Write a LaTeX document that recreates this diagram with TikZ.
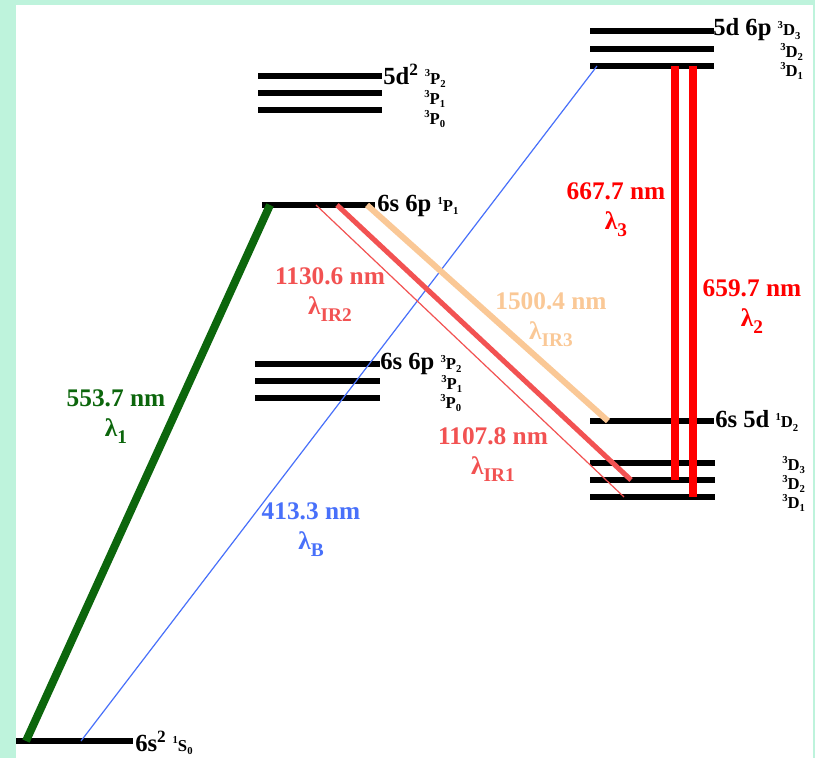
\documentclass[tikz,border=0pt]{standalone}
\usepackage{fontspec}
\setmainfont{Liberation Serif}
\definecolor{mint}{RGB}{190,243,220}
\definecolor{grn}{RGB}{12,102,12}
\definecolor{blu}{RGB}{72,112,250}
\definecolor{pnk}{RGB}{242,82,82}
\definecolor{org}{RGB}{250,200,150}
\newcommand{\tsup}[1]{\raisebox{0.45em}{\fontsize{8}{8}\selectfont #1}}
\newcommand{\tsub}[1]{\raisebox{-0.2em}{\fontsize{8}{8}\selectfont #1}}
\newcommand{\trm}[3]{\tsup{#1}#2\tsub{#3}}
\newcommand{\wsub}[1]{\raisebox{-0.3em}{\fontsize{14.5}{14.5}\selectfont #1}}
\begin{document}
\begin{tikzpicture}[x=0.75pt, y=-0.75pt,
    level/.style={line width=3.8pt},
    lvlabel/.style={font=\bfseries\fontsize{18.5}{18.5}\selectfont,
      inner sep=0pt, anchor=west},
    termlbl/.style={font=\bfseries\fontsize{12.5}{12.5}\selectfont,
      inner sep=0pt, anchor=west},
    wave/.style={font=\bfseries\fontsize{19}{22}\selectfont,
      align=center, inner sep=0pt}
  ]
    % Rahmen
    \fill[mint] (0,0) rectangle (815,758);
    \fill[white] (16,5) rectangle (813,758);
    \useasboundingbox (0,0) rectangle (815,758);

    % Niveaus
    \draw[level] (16,741) -- (133,741);
    \draw[level] (258,76) -- (382,76);
    \draw[level] (258,93) -- (382,93);
    \draw[level] (258,110) -- (382,110);
    \draw[level] (262,205) -- (375,205);
    \draw[level] (255,364) -- (380,364);
    \draw[level] (255,381) -- (380,381);
    \draw[level] (255,398) -- (380,398);
    \draw[level] (590,31) -- (714,31);
    \draw[level] (590,49) -- (714,49);
    \draw[level] (590,66) -- (714,66);
    \draw[level] (590,421) -- (714,421);
    \draw[level] (590,463) -- (715,463);
    \draw[level] (590,480) -- (715,480);
    \draw[level] (590,497) -- (715,497);

    % Beschriftung der Niveaus
    \node[lvlabel] (gnd) at (135,743) {6s\textsuperscript{2} \fontsize{12.5}{12.5}\selectfont\trm{1}{S}{0}};
    \node[lvlabel] (dd) at (383,76) {5d\textsuperscript{2} \fontsize{12.5}{12.5}\selectfont\trm{3}{P}{2}};
    \node[termlbl] (dd1) at (424,99) {\trm{3}{P}{1}};
    \node[termlbl] (dd0) at (424,119) {\trm{3}{P}{0}};
    \node[lvlabel] (sp1) at (377,206) {6s 6p \fontsize{12.5}{12.5}\selectfont\trm{1}{P}{1}};
    \node[lvlabel] (sp3) at (380,364) {6s 6p \fontsize{12.5}{12.5}\selectfont\trm{3}{P}{2}};
    \node[termlbl] (sp31) at (441,384) {\trm{3}{P}{1}};
    \node[termlbl] (sp30) at (440,403) {\trm{3}{P}{0}};
    \node[lvlabel] (dp) at (713,30) {5d 6p \fontsize{12.5}{12.5}\selectfont\trm{3}{D}{3}};
    \node[termlbl] (dp2) at (780,52) {\trm{3}{D}{2}};
    \node[termlbl] (dp1) at (780,71) {\trm{3}{D}{1}};
    \node[lvlabel] (sd1) at (715,421) {6s 5d \fontsize{12.5}{12.5}\selectfont\trm{1}{D}{2}};
    \node[termlbl] (sd3) at (782,465) {\trm{3}{D}{3}};
    \node[termlbl] (sd2) at (782,484) {\trm{3}{D}{2}};
    \node[termlbl] (sd1b) at (782,503) {\trm{3}{D}{1}};

    % Endpunkte der Uebergaenge
    \coordinate (gG) at (26,741);
    \coordinate (gB) at (81,741);
    \coordinate (pG) at (270,205);
    \coordinate (pA) at (316,205);
    \coordinate (pB) at (337,205);
    \coordinate (pC) at (367,205);
    \coordinate (dB) at (597,66);
    \coordinate (d3) at (675,66);
    \coordinate (d2) at (693,66);
    \coordinate (sC) at (608,421);
    \coordinate (sB) at (631,480);
    \coordinate (sA) at (624,497);
    \coordinate (s3) at (675,480);
    \coordinate (s2) at (693,497);

    % Uebergaenge
    \draw[grn, line width=6pt] (gG) -- (pG);
    \draw[blu, line width=0.9pt] (gB) -- (dB);
    \draw[pnk, line width=0.9pt] (pA) -- (sA);
    \draw[pnk, line width=3.8pt] (pB) -- (sB);
    \draw[org, line width=4.5pt] (pC) -- (sC);
    \draw[red, line width=5.5pt] (d3) -- (s3);
    \draw[red, line width=5.5pt] (d2) -- (s2);

    % Wellenlaengen
    \node[wave, text=grn] (l1) at (116,417) {553.7 nm\\ λ\wsub{1}};
    \node[wave, text=blu] (lB) at (311,530) {413.3 nm\\ λ\wsub{B}};
    \node[wave, text=pnk] (lIR2) at (330,295) {1130.6 nm\\ λ\wsub{IR2}};
    \node[wave, text=org] (lIR3) at (551,320) {1500.4 nm\\ λ\wsub{IR3}};
    \node[wave, text=pnk] (lIR1) at (493,455) {1107.8 nm\\ λ\wsub{IR1}};
    \node[wave, text=red] (l3) at (616,210) {667.7 nm\\ λ\wsub{3}};
    \node[wave, text=red] (l2) at (752,307) {659.7 nm\\ λ\wsub{2}};
  \end{tikzpicture}
\end{document}
